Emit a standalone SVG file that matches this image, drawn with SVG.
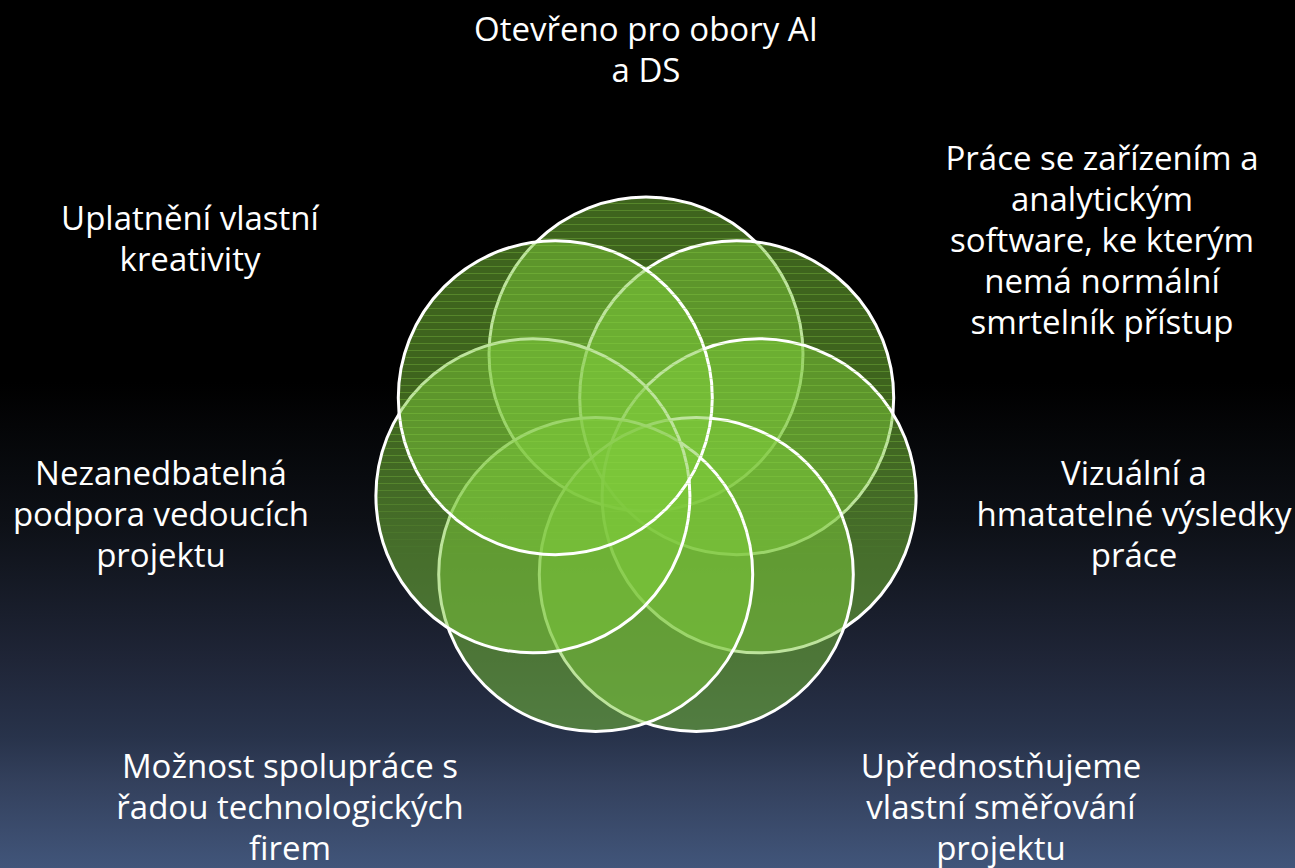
<svg xmlns="http://www.w3.org/2000/svg" width="1295" height="868" viewBox="0 0 1295 868">
  <style>
    .circ { fill: #7cc83a; fill-opacity: 0.5; stroke: #ffffff; stroke-width: 3; }
    .lbl { font-family: "Open Sans", "Noto Sans", "DejaVu Sans", sans-serif; font-size: 33px; fill: #ffffff; text-anchor: middle; }
  </style>
  <defs>
    <linearGradient id="bg" x1="0" y1="0" x2="0" y2="868" gradientUnits="userSpaceOnUse">
      <stop offset="0" stop-color="#000000"/>
      <stop offset="0.44" stop-color="#000000"/>
      <stop offset="0.6" stop-color="#0d1016"/>
      <stop offset="0.76" stop-color="#1f2537"/>
      <stop offset="0.85" stop-color="#28334b"/>
      <stop offset="0.9" stop-color="#33405c"/>
      <stop offset="1" stop-color="#41557a"/>
    </linearGradient>
    <pattern id="stripes" x="0" y="0" width="10" height="7" patternUnits="userSpaceOnUse">
      <rect x="0" y="0" width="10" height="1" fill="#8fd84a" fill-opacity="0.3"/>
    </pattern>
    <linearGradient id="fade" x1="0" y1="190" x2="0" y2="560" gradientUnits="userSpaceOnUse">
      <stop offset="0" stop-color="#ffffff"/>
      <stop offset="0.75" stop-color="#ffffff"/>
      <stop offset="1" stop-color="#000000"/>
    </linearGradient>
    <mask id="fadeMask" maskUnits="userSpaceOnUse" x="0" y="0" width="1295" height="868">
      <rect x="0" y="0" width="1295" height="868" fill="url(#fade)"/>
    </mask>
    <clipPath id="allCircles">
      <circle cx="646" cy="354" r="155.5"/>
      <circle cx="736.7" cy="397.7" r="155.5"/>
      <circle cx="759.1" cy="495.8" r="155.5"/>
      <circle cx="696.3" cy="574.5" r="155.5"/>
      <circle cx="595.7" cy="574.5" r="155.5"/>
      <circle cx="532.9" cy="495.8" r="155.5"/>
      <circle cx="555.3" cy="397.7" r="155.5"/>
    </clipPath>
  </defs>

  <rect id="background" x="0" y="0" width="1295" height="868" fill="url(#bg)"/>

  <g id="circle-top"><circle class="circ" cx="646" cy="354" r="157"/></g>
  <g id="circle-upper-right"><circle class="circ" cx="736.7" cy="397.7" r="157"/></g>
  <g id="circle-right"><circle class="circ" cx="759.1" cy="495.8" r="157"/></g>
  <g id="circle-bottom-right"><circle class="circ" cx="696.3" cy="574.5" r="157"/></g>
  <g id="circle-bottom-left"><circle class="circ" cx="595.7" cy="574.5" r="157"/></g>
  <g id="circle-left"><circle class="circ" cx="532.9" cy="495.8" r="157"/></g>
  <g id="circle-upper-left"><circle class="circ" cx="555.3" cy="397.7" r="157"/></g>

  <g id="texture" clip-path="url(#allCircles)" mask="url(#fadeMask)">
    <rect x="370" y="190" width="560" height="380" fill="url(#stripes)"/>
  </g>

  <g id="label-top">
    <text class="lbl" x="646" y="41">Otevřeno pro obory AI</text>
    <text class="lbl" x="646" y="82">a DS</text>
  </g>
  <g id="label-upper-right">
    <text class="lbl" x="1102" y="170">Práce se zařízením a</text>
    <text class="lbl" x="1102" y="211">analytickým</text>
    <text class="lbl" x="1102" y="252">software, ke kterým</text>
    <text class="lbl" x="1102" y="293">nemá normální</text>
    <text class="lbl" x="1102" y="334">smrtelník přístup</text>
  </g>
  <g id="label-right">
    <text class="lbl" x="1134" y="485">Vizuální a</text>
    <text class="lbl" x="1134" y="526">hmatatelné výsledky</text>
    <text class="lbl" x="1134" y="567">práce</text>
  </g>
  <g id="label-bottom-right">
    <text class="lbl" x="1001" y="778">Upřednostňujeme</text>
    <text class="lbl" x="1001" y="819">vlastní směřování</text>
    <text class="lbl" x="1001" y="860">projektu</text>
  </g>
  <g id="label-bottom-left">
    <text class="lbl" x="290" y="778">Možnost spolupráce s</text>
    <text class="lbl" x="290" y="819">řadou technologických</text>
    <text class="lbl" x="290" y="860">firem</text>
  </g>
  <g id="label-left">
    <text class="lbl" x="161" y="485">Nezanedbatelná</text>
    <text class="lbl" x="161" y="526">podpora vedoucích</text>
    <text class="lbl" x="161" y="567">projektu</text>
  </g>
  <g id="label-upper-left">
    <text class="lbl" x="190" y="230">Uplatnění vlastní</text>
    <text class="lbl" x="190" y="271">kreativity</text>
  </g>
</svg>
